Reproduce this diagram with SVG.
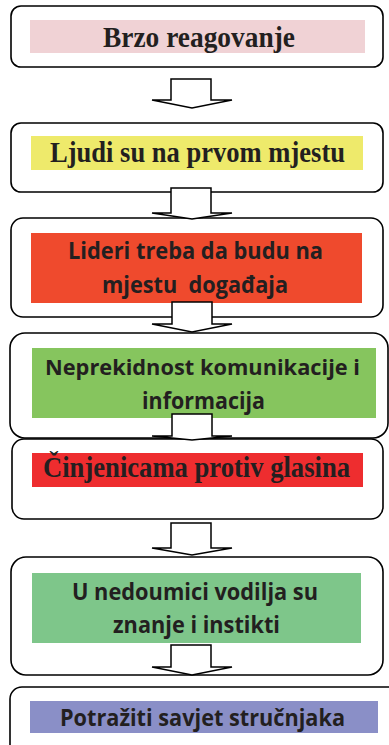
<svg xmlns="http://www.w3.org/2000/svg" width="389" height="745" viewBox="0 0 389 745">
<style>
.box{fill:#fff;stroke:#000;stroke-width:1.6}
.arr{fill:#fff;stroke:#000;stroke-width:1.5;stroke-linejoin:miter}
.serif{font-family:"Liberation Serif","Times New Roman",serif;font-weight:bold;font-size:28.5px;fill:#231f20;text-anchor:middle}
.sans{font-family:"Open Sans","Noto Sans","Liberation Sans",sans-serif;font-weight:bold;font-size:23px;fill:#231f20;text-anchor:middle}
</style>
<rect width="389" height="745" fill="#fff"/>
<g id="n1">
<rect class="box" x="11" y="6" width="372" height="61" rx="10"/>
<rect x="30" y="20" width="335" height="33" fill="#f0d2d5"/>
<text class="serif" x="199" y="47" textLength="192" lengthAdjust="spacingAndGlyphs">Brzo reagovanje</text>
</g>
<g id="n2">
<rect class="box" x="11" y="123" width="372" height="69" rx="10"/>
<rect x="31" y="136" width="332" height="34" fill="#eeea6b"/>
<text class="serif" x="197.5" y="162" textLength="295" lengthAdjust="spacingAndGlyphs">Ljudi su na prvom mjestu</text>
</g>
<g id="n3">
<rect class="box" x="11" y="218" width="372" height="99" rx="12"/>
<rect x="31" y="233" width="331" height="70" fill="#ef4a2d"/>
<text class="sans" x="195.5" y="259" textLength="255" lengthAdjust="spacingAndGlyphs">Lideri treba da budu na</text>
<text class="sans" x="195" y="293" textLength="186" lengthAdjust="spacingAndGlyphs" xml:space="preserve">mjestu  događaja</text>
</g>
<g id="n4">
<rect class="box" x="10" y="333" width="378" height="105" rx="15"/>
<rect x="32" y="348" width="344" height="70" fill="#86c55e"/>
<text class="sans" x="202.5" y="375" style="font-size:22px" textLength="315" lengthAdjust="spacingAndGlyphs">Neprekidnost komunikacije i</text>
<text class="sans" x="203.5" y="409" textLength="123" lengthAdjust="spacingAndGlyphs">informacija</text>
</g>
<g id="n5">
<rect class="box" x="12" y="439" width="371" height="80" rx="12"/>
<rect x="32" y="453" width="331" height="34" fill="#ee2d2f"/>
<text class="serif" x="196.5" y="477" textLength="307" lengthAdjust="spacingAndGlyphs">Činjenicama protiv glasina</text>
</g>
<g id="n6">
<rect class="box" x="11" y="557" width="372" height="118" rx="15"/>
<rect x="32" y="573" width="329" height="70" fill="#7ec68a"/>
<text class="sans" x="195" y="600" textLength="246" lengthAdjust="spacingAndGlyphs">U nedoumici vodilja su</text>
<text class="sans" x="196.5" y="633" textLength="167" lengthAdjust="spacingAndGlyphs">znanje i instikti</text>
</g>
<g id="n7">
<rect class="box" x="10" y="687" width="390" height="80" rx="12"/>
<rect x="30" y="701" width="348" height="32" fill="#8a8fc7"/>
<text class="sans" x="202.5" y="726" textLength="285" lengthAdjust="spacingAndGlyphs">Potražiti savjet stručnjaka</text>
</g>
<g id="connectors">
<path class="arr" d="M171,79 H211 V100 H232 L192,108 L152,100 H171 Z"/>
<path class="arr" d="M171,188 H211 V213 H232 L192,219 L152,213 H171 Z"/>
<path class="arr" d="M172,302 H212 V324 H232 L192,332 L152,324 H172 Z"/>
<path class="arr" d="M172,414 H212 V436 H232 L192,440 L152,436 H172 Z"/>
<path class="arr" d="M171,523 H211 V548 H232 L192,555 L152,548 H171 Z"/>
<path class="arr" d="M171,645 H211 V667 H232 L192,675 L152,667 H171 Z"/>
</g>
</svg>
